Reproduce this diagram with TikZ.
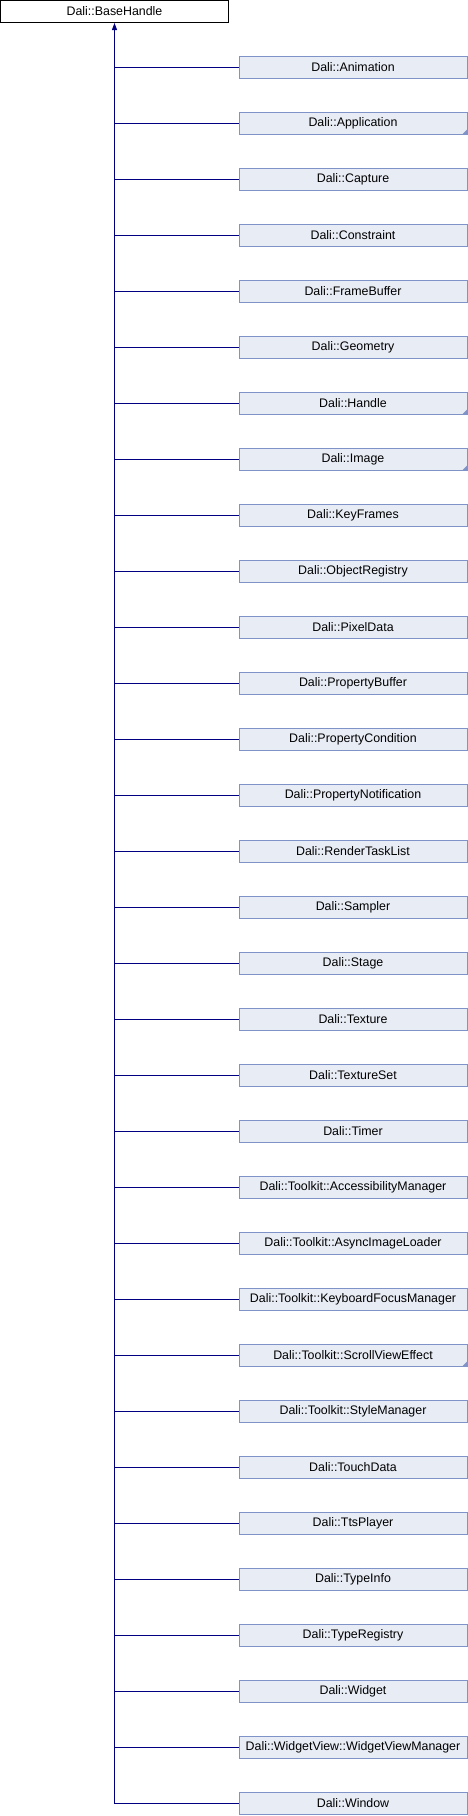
\documentclass[tikz,border=0pt]{standalone}
\usepackage{fontspec}
\setmainfont{Liberation Sans}
\usetikzlibrary{arrows.meta}
\definecolor{edgeblue}{HTML}{000080}
\definecolor{boxfill}{HTML}{E8ECF5}
\definecolor{boxline}{HTML}{7F93C8}
\tikzset{
  basebox/.style={draw=black, fill=white, line width=1pt, minimum width=228pt, minimum height=22pt, inner sep=0pt, font=\fontsize{12.4}{14}\selectfont},
  childbox/.style={draw=boxline, fill=boxfill, line width=1pt, minimum width=228pt, minimum height=22pt, inner sep=0pt, font=\fontsize{12.4}{14}\selectfont},
  edge/.style={draw=edgeblue, line width=1pt},
  corner/.style={fill=boxline}
}
\begin{document}
\begin{tikzpicture}[x=1pt, y=-1pt]
\useasboundingbox (0,0) rectangle (468,1816);
\node[basebox] (base) at (114.5,11.5) {Dali::BaseHandle};
\foreach \name [count=\i from 0] in {Dali::Animation, Dali::Application, Dali::Capture, Dali::Constraint, Dali::FrameBuffer, Dali::Geometry, Dali::Handle, Dali::Image, Dali::KeyFrames, Dali::ObjectRegistry, Dali::PixelData, Dali::PropertyBuffer, Dali::PropertyCondition, Dali::PropertyNotification, Dali::RenderTaskList, Dali::Sampler, Dali::Stage, Dali::Texture, Dali::TextureSet, Dali::Timer, Dali::Toolkit::AccessibilityManager, Dali::Toolkit::AsyncImageLoader, Dali::Toolkit::KeyboardFocusManager, Dali::Toolkit::ScrollViewEffect, Dali::Toolkit::StyleManager, Dali::TouchData, Dali::TtsPlayer, Dali::TypeInfo, Dali::TypeRegistry, Dali::Widget, Dali::WidgetView::WidgetViewManager, Dali::Window} {
  \node[childbox] (c\i) at (353,{67.5+56*\i}) {\name};
  \draw[edge] (c\i.west) -- (c\i.west -| base.south);
}
\foreach \i in {1,6,7,23} {
  \fill[corner] ([xshift=-0.5pt,yshift=0.5pt]c\i.south east) -- ++(-5,0) -- ++(5,-5) -- cycle;
}
\draw[edge, -{Triangle[width=5pt,length=7pt]}] (c31.west -| base.south) -- (base.south);
\end{tikzpicture}
\end{document}
